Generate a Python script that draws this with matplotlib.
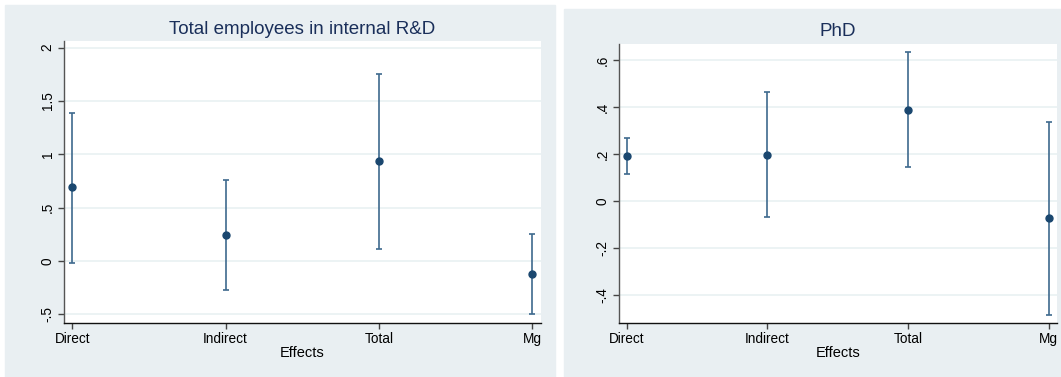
import matplotlib
matplotlib.use("Agg")
import matplotlib.pyplot as plt
from matplotlib.patches import Rectangle

plt.rcParams['font.family'] = ['Liberation Sans', 'DejaVu Sans']

effects = ["Direct", "Indirect", "Total", "Mg"]

# Total employees in internal R&D
rd_est = [0.69, 0.24, 0.935, -0.118]
rd_lo = [-0.015, -0.27, 0.112, -0.494]
rd_hi = [1.385, 0.755, 1.755, 0.257]
rd_ticks = [-0.5, 0, 0.5, 1, 1.5, 2]
rd_labels = ["-.5", "0", ".5", "1", "1.5", "2"]

# PhD
phd_est = [0.191, 0.197, 0.389, -0.074]
phd_lo = [0.113, -0.068, 0.143, -0.484]
phd_hi = [0.268, 0.464, 0.633, 0.338]
phd_ticks = [-0.4, -0.2, 0, 0.2, 0.4, 0.6]
phd_labels = ["-.4", "-.2", "0", ".2", ".4", ".6"]

W, H = 1061, 377
fig = plt.figure(figsize=(W / 100, H / 100), dpi=100)
fig.patch.set_facecolor("white")

bg = "#e9eff2"
fig.patches.append(Rectangle((4.5 / W, 0), (555 - 4.5) / W, 1 - 5 / H,
                             transform=fig.transFigure, color=bg, zorder=-5))
fig.patches.append(Rectangle((564 / W, 0), (1061 - 564) / W, 1 - 9 / H,
                             transform=fig.transFigure, color=bg, zorder=-5))


def panel(rect, title, title_y, est, lo, hi, ticks, labels, ylim):
    x0, y0, x1, y1 = rect
    ax = fig.add_axes([x0 / W, 1 - y1 / H, (x1 - x0) / W, (y1 - y0) / H])
    ax.set_zorder(1)
    ax.set_facecolor("white")
    xs = list(range(len(effects)))
    yerr = [[e - l for e, l in zip(est, lo)], [h - e for e, h in zip(est, hi)]]
    ax.errorbar(xs, est, yerr=yerr, fmt="none", ecolor="#3e6a8e",
                elinewidth=1.2, capsize=2.5, capthick=1.2, zorder=3)
    ax.plot(xs, est, "o", color="#1a476f", markersize=5, zorder=4)
    ax.set_xlim(-0.057, 3.058)
    ax.set_ylim(*ylim)
    ax.set_yticks(ticks)
    ax.set_yticklabels(labels, rotation=90, va="center")
    ax.set_xticks(xs)
    ax.set_xticklabels(effects)
    ax.grid(axis="y", color="#eaf2f3", linewidth=1.3, zorder=0)
    ax.set_axisbelow(True)
    for s in ["top", "right"]:
        ax.spines[s].set_visible(False)
    ax.spines["left"].set_color("#555555")
    ax.spines["bottom"].set_color("#111111")
    ax.spines["left"].set_linewidth(1.0)
    ax.spines["bottom"].set_linewidth(1.0)
    ax.tick_params(axis="both", labelsize=9.8, colors="#444444",
                   labelcolor="black", length=4, width=1, pad=2.5)
    ax.set_xlabel("Effects", fontsize=10.5, labelpad=0)
    fig.text(((x0 + x1) / 2) / W, 1 - title_y / H, title, ha="center",
             va="center", fontsize=13.5, color="#1a2f5a")
    return ax


panel((63.6, 40.7, 541, 323), "Total employees in internal R&D", 29,
      rd_est, rd_lo, rd_hi, rd_ticks, rd_labels, (-0.581, 2.065))
panel((618.7, 44, 1056.7, 323), "PhD", 32,
      phd_est, phd_lo, phd_hi, phd_ticks, phd_labels, (-0.519, 0.668))

fig.savefig("out.png", dpi=100, facecolor=fig.get_facecolor())
